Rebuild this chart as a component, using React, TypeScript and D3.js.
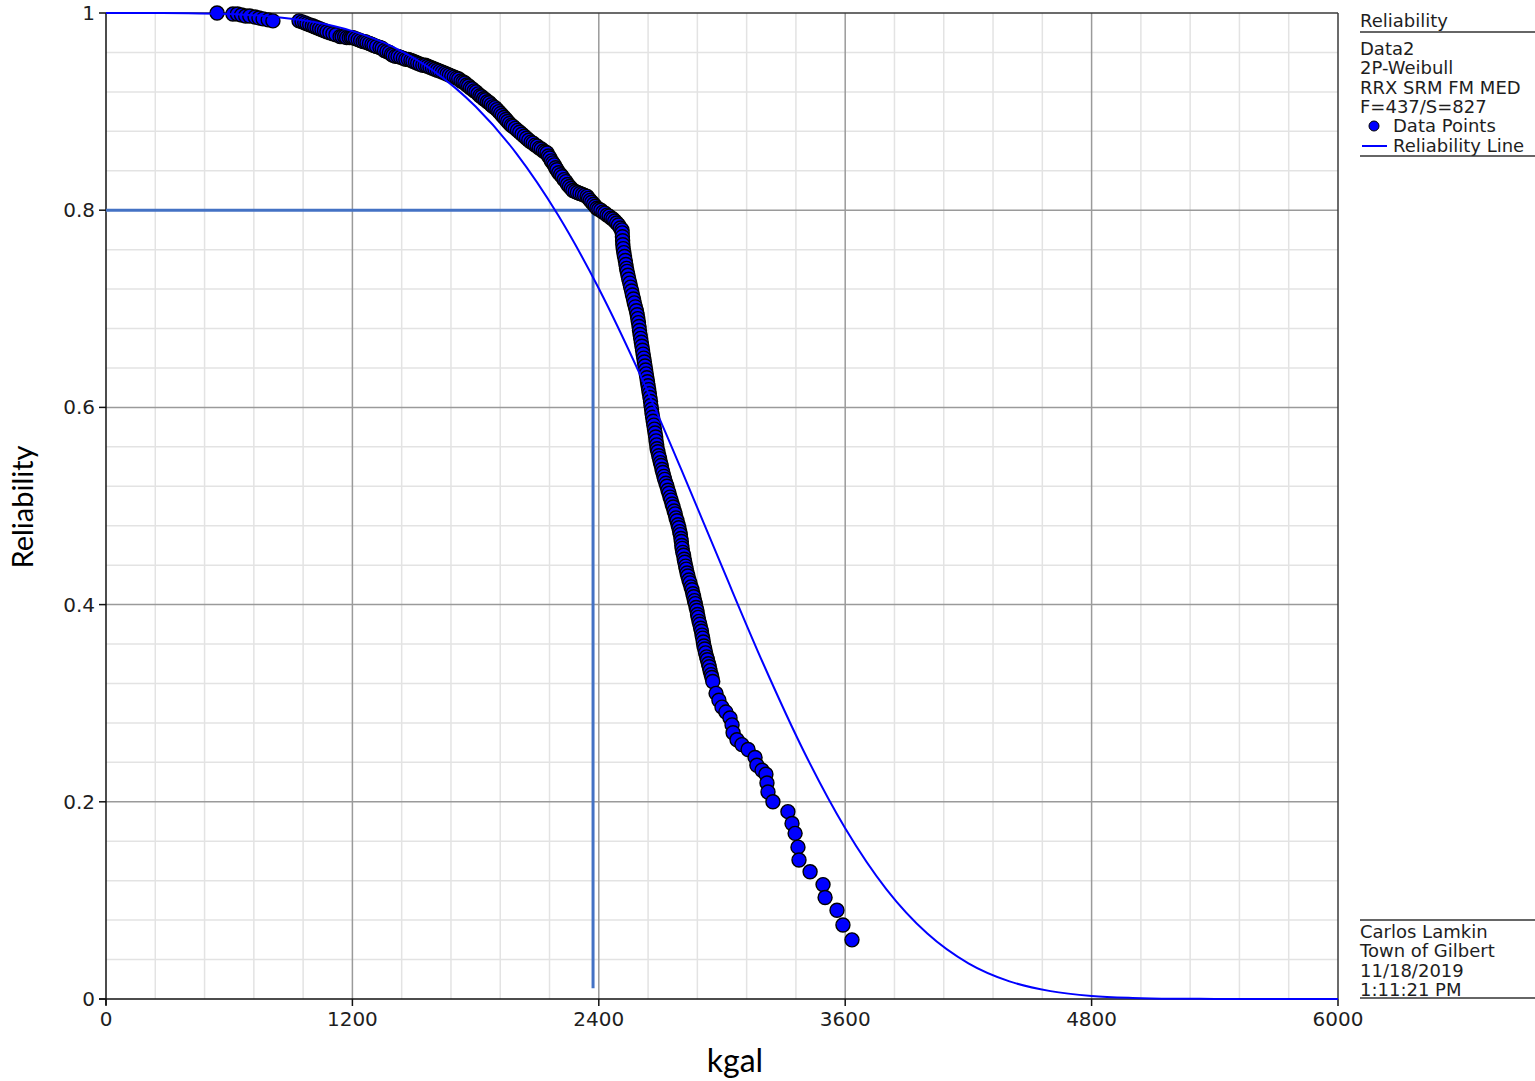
import React from 'react';
import * as d3 from 'd3';

// ---------- data ----------
const xTicks = [0, 1200, 2400, 3600, 4800, 6000];
const yTicks = [0, 0.2, 0.4, 0.6, 0.8, 1];
const yTickLabels = ['0', '0.2', '0.4', '0.6', '0.8', '1'];
const xTitle = 'kgal';
const yTitle = 'Reliability';
const legendTitle = 'Reliability';
const legendInfo = ['Data2', '2P-Weibull', 'RRX SRM FM MED', 'F=437/S=827'];
const legendItems = ['Data Points', 'Reliability Line'];
const footerLines = ['Carlos Lamkin', 'Town of Gilbert', '11/18/2019', '1:11:21 PM'];

// fitted 2P-Weibull reliability line (kgal, R)
const lineT = [0, 200, 400, 600, 800, 1000, 1200, 1400, 1600, 1800, 2000, 2200, 2400, 2600, 2800, 3000, 3200, 3400, 3600, 3800, 4000, 4200, 4400, 4600, 4800, 5000, 5200, 5400, 5600, 6000];
const lineR = [1, 1, 0.9998, 0.9989, 0.9965, 0.9913, 0.9816, 0.9654, 0.9406, 0.9051, 0.8572, 0.7956, 0.7206, 0.6337, 0.5379, 0.4384, 0.3405, 0.2505, 0.1732, 0.1115, 0.0664, 0.0362, 0.0179, 0.008, 0.0031, 0.0011, 0.0003, 0.0001, 0, 0];

// reference (B20 life) lines
const refLife = 2372;
const refReliability = 0.8;
const refLineBottom = 0.011;

// failure data points (kgal, R)
const dataPoints: [number, number][] = [
  [541, 1.0], [618, 0.999], [640, 0.999], [660, 0.998], [680, 0.997], [700, 0.997], [726, 0.996], [745, 0.995], [765, 0.994], [790, 0.993], [813, 0.992],
  [940, 0.992], [955, 0.991], [968, 0.99], [979, 0.989], [992, 0.988], [1005, 0.987], [1016, 0.986], [1028, 0.985], [1040, 0.984], [1052, 0.983], [1064, 0.982], [1076, 0.981], [1090, 0.98], [1105, 0.979], [1120, 0.978], [1140, 0.976],
  [1150, 0.976], [1162, 0.976], [1172, 0.975], [1185, 0.975], [1195, 0.975], [1203, 0.975], [1215, 0.974], [1228, 0.973], [1240, 0.972], [1252, 0.971], [1262, 0.971], [1271, 0.97], [1283, 0.969], [1295, 0.968], [1305, 0.967], [1318, 0.966], [1334, 0.965], [1345, 0.964], [1356, 0.962], [1368, 0.961], [1380, 0.96], [1390, 0.958], [1398, 0.957], [1410, 0.956], [1422, 0.956], [1435, 0.955], [1448, 0.954], [1460, 0.953], [1472, 0.953], [1485, 0.952], [1495, 0.951], [1507, 0.95], [1518, 0.949], [1530, 0.948], [1543, 0.947], [1555, 0.947], [1566, 0.946], [1578, 0.945], [1590, 0.944], [1602, 0.943], [1614, 0.942], [1626, 0.941], [1638, 0.94], [1650, 0.939], [1661, 0.938], [1672, 0.937], [1684, 0.936], [1696, 0.935], [1708, 0.934], [1718, 0.933], [1729, 0.931], [1739, 0.93],
  [1748, 0.929], [1757, 0.927], [1766, 0.926], [1775, 0.924], [1784, 0.923], [1793, 0.921], [1802, 0.92], [1812, 0.918], [1821, 0.916], [1830, 0.915], [1839, 0.913], [1848, 0.912], [1858, 0.91], [1867, 0.909], [1876, 0.907], [1885, 0.905], [1895, 0.904], [1904, 0.902], [1913, 0.9], [1922, 0.898], [1930, 0.896], [1939, 0.894], [1948, 0.892], [1956, 0.89], [1965, 0.888], [1974, 0.886], [1982, 0.885], [1993, 0.883], [2004, 0.881], [2015, 0.879], [2026, 0.877], [2037, 0.875], [2048, 0.873], [2059, 0.871], [2070, 0.869], [2080, 0.868], [2090, 0.866], [2100, 0.865], [2110, 0.863], [2120, 0.862], [2130, 0.86], [2139, 0.859], [2148, 0.858],
  [2155, 0.855], [2162, 0.853], [2169, 0.85], [2176, 0.848], [2183, 0.846], [2190, 0.843], [2196, 0.841], [2205, 0.838], [2214, 0.836], [2222, 0.834], [2231, 0.831], [2240, 0.829], [2248, 0.826], [2257, 0.824], [2266, 0.822], [2274, 0.82], [2285, 0.819], [2296, 0.818], [2308, 0.817], [2320, 0.816], [2331, 0.815], [2343, 0.814], [2350, 0.812], [2358, 0.81], [2366, 0.808], [2375, 0.806], [2383, 0.804], [2391, 0.802], [2400, 0.801], [2410, 0.8], [2420, 0.798], [2430, 0.797], [2440, 0.795], [2450, 0.794], [2460, 0.792], [2469, 0.791], [2478, 0.789], [2487, 0.787], [2496, 0.785], [2505, 0.782], [2513, 0.78],
  [2514, 0.777], [2515, 0.773], [2516, 0.769], [2517, 0.765], [2519, 0.761], [2522, 0.757], [2525, 0.753], [2529, 0.749], [2532, 0.745], [2535, 0.741], [2538, 0.738],
  [2542, 0.734], [2546, 0.73], [2551, 0.726], [2555, 0.722], [2560, 0.718], [2564, 0.714], [2569, 0.71],
  [2573, 0.706], [2578, 0.702], [2583, 0.698], [2587, 0.694], [2590, 0.69], [2593, 0.686], [2596, 0.682], [2598, 0.678], [2601, 0.674], [2604, 0.67], [2607, 0.666], [2610, 0.662],
  [2613, 0.658], [2616, 0.654], [2619, 0.65], [2622, 0.646], [2625, 0.642], [2628, 0.638], [2631, 0.634], [2634, 0.63], [2637, 0.626],
  [2640, 0.622], [2643, 0.618], [2646, 0.614], [2649, 0.61], [2652, 0.606], [2654, 0.602], [2657, 0.598], [2659, 0.594],
  [2662, 0.59], [2665, 0.586], [2668, 0.582], [2671, 0.578], [2674, 0.574], [2677, 0.57], [2679, 0.566], [2682, 0.562], [2684, 0.558],
  [2688, 0.555], [2692, 0.551], [2696, 0.548], [2700, 0.544], [2704, 0.541], [2708, 0.537], [2712, 0.534], [2717, 0.53], [2721, 0.527],
  [2727, 0.523], [2732, 0.52], [2737, 0.516], [2742, 0.513], [2747, 0.509], [2752, 0.506], [2757, 0.502], [2762, 0.499], [2767, 0.495], [2772, 0.492],
  [2776, 0.488], [2781, 0.485], [2786, 0.481], [2790, 0.478], [2794, 0.474], [2797, 0.471], [2800, 0.467], [2802, 0.464], [2804, 0.46], [2806, 0.457],
  [2809, 0.453], [2813, 0.45], [2816, 0.446], [2819, 0.443], [2823, 0.439], [2826, 0.436], [2830, 0.432], [2834, 0.429],
  [2839, 0.425], [2844, 0.422], [2849, 0.418], [2854, 0.415], [2858, 0.411], [2862, 0.408], [2866, 0.404], [2870, 0.401], [2874, 0.397], [2878, 0.394], [2881, 0.39], [2884, 0.387],
  [2888, 0.383], [2892, 0.38], [2896, 0.376], [2900, 0.373], [2903, 0.369], [2906, 0.366], [2909, 0.362], [2912, 0.358], [2916, 0.355],
  [2920, 0.351], [2925, 0.347], [2929, 0.344], [2934, 0.34], [2938, 0.337], [2942, 0.333], [2947, 0.329], [2951, 0.326], [2955, 0.322],
  [2971, 0.31], [2985, 0.303], [3000, 0.296], [3019, 0.291], [3039, 0.285], [3049, 0.278], [3054, 0.27], [3073, 0.263], [3097, 0.258], [3127, 0.253], [3161, 0.245], [3170, 0.237], [3195, 0.232], [3214, 0.228], [3219, 0.219], [3224, 0.21], [3248, 0.2],
  [3321, 0.19], [3341, 0.178], [3356, 0.168], [3370, 0.154], [3375, 0.141], [3429, 0.129], [3492, 0.116], [3502, 0.103], [3560, 0.09], [3589, 0.075], [3633, 0.06],
];

// ---------- layout ----------
const W = 1535;
const H = 1081;
const left = 106;
const right = 1338;
const top = 13;
const bottom = 999;
const FONT = '"DejaVu Sans", Verdana, sans-serif';
const TITLE_FONT = 'Lato, "Open Sans", sans-serif';
const TEXT = '#1e1e1e';

export default function App() {
  const x = d3.scaleLinear().domain([0, 6000]).range([left, right]);
  const y = d3.scaleLinear().domain([0, 1]).range([bottom, top]);

  const minorX = d3.range(0, 6000 + 1, 240).filter((v) => v % 1200 !== 0);
  const minorY = d3.range(0, 1.0001, 0.04).map((v) => +v.toFixed(2)).filter((v) => Math.round(v * 100) % 20 !== 0);

  const linePath = d3
    .line<number>()
    .x((_, i) => x(lineT[i]))
    .y((d) => y(d))
    .curve(d3.curveMonotoneX)(lineR) as string;

  const legX = 1360;
  const lineH = 19.3;

  return (
    <svg
      width={W}
      height={H}
      style={{ position: 'absolute', left: 0, top: 0, background: '#fff' }}
      xmlns="http://www.w3.org/2000/svg"
    >
      <rect x={0} y={0} width={W} height={H} fill="#fff" />
      {/* minor grid */}
      <g stroke="#e3e3e3" strokeWidth={1.5}>
        {minorX.map((v) => (
          <line key={'mx' + v} x1={x(v)} x2={x(v)} y1={top} y2={bottom} />
        ))}
        {minorY.map((v) => (
          <line key={'my' + v} x1={left} x2={right} y1={y(v)} y2={y(v)} />
        ))}
      </g>
      {/* major grid */}
      <g stroke="#9a9a9a" strokeWidth={1.5}>
        {xTicks.slice(1, -1).map((v) => (
          <line key={'Mx' + v} x1={x(v)} x2={x(v)} y1={top} y2={bottom} />
        ))}
        {yTicks.slice(1, -1).map((v) => (
          <line key={'My' + v} x1={left} x2={right} y1={y(v)} y2={y(v)} />
        ))}
      </g>
      {/* frame */}
      <line x1={left} x2={right} y1={top} y2={top} stroke="#3a3a3a" strokeWidth={1.5} />
      <line x1={right} x2={right} y1={top} y2={bottom} stroke="#3a3a3a" strokeWidth={1.5} />
      <line x1={left} x2={left} y1={top} y2={bottom + 6} stroke="#111" strokeWidth={1.5} />
      <line x1={left - 7} x2={right} y1={bottom} y2={bottom} stroke="#111" strokeWidth={1.5} />
      {/* ticks */}
      {yTicks.map((v) => (
        <line key={'ty' + v} x1={left - 7} x2={left} y1={y(v)} y2={y(v)} stroke="#111" strokeWidth={1.5} />
      ))}
      {xTicks.map((v) => (
        <line key={'tx' + v} x1={x(v)} x2={x(v)} y1={bottom} y2={bottom + 7} stroke="#111" strokeWidth={1.5} />
      ))}
      {/* tick labels */}
      <g fontFamily={FONT} fontSize={20} fill={TEXT}>
        {yTicks.map((v, i) => (
          <text key={'ly' + v} x={left - 11} y={y(v) + 7} textAnchor="end">
            {yTickLabels[i]}
          </text>
        ))}
        {xTicks.map((v) => (
          <text key={'lx' + v} x={x(v)} y={bottom + 27} textAnchor="middle">
            {String(v)}
          </text>
        ))}
      </g>
      {/* axis titles */}
      <text x={735} y={1072} textAnchor="middle" fontFamily={TITLE_FONT} fontSize={32} fill="#000">
        {xTitle}
      </text>
      <text
        transform={`translate(33,${507}) rotate(-90)`}
        textAnchor="middle"
        fontFamily={TITLE_FONT}
        fontSize={29}
        fill="#000"
      >
        {yTitle}
      </text>
      {/* reference lines */}
      <g stroke="#4472c4" strokeWidth={3} fill="none">
        <line x1={x(0)} x2={x(refLife) + 1.5} y1={y(refReliability)} y2={y(refReliability)} />
        <line x1={x(refLife)} x2={x(refLife)} y1={y(refReliability)} y2={y(refLineBottom)} />
      </g>
      {/* data points */}
      <g fill="#0000ff" stroke="#000" strokeWidth={1.4}>
        {dataPoints.map(([t, r], i) => (
          <circle key={'p' + i} cx={x(t)} cy={y(r)} r={7} />
        ))}
      </g>
      {/* reliability line */}
      <path d={linePath} fill="none" stroke="#0000ff" strokeWidth={2} />

      {/* legend */}
      <g fontFamily={FONT} fontSize={18} fill={TEXT}>
        <text x={legX} y={27}>{legendTitle}</text>
        <line x1={legX} x2={W} y1={32} y2={32} stroke="#333" strokeWidth={1.5} />
        {legendInfo.map((s, i) => (
          <text key={'li' + i} x={legX} y={55 + i * lineH}>
            {s}
          </text>
        ))}
        <circle cx={1374} cy={126} r={5} fill="#0000ff" stroke="#000" strokeWidth={1} />
        <text x={1393} y={132}>{legendItems[0]}</text>
        <line x1={1362} x2={1387} y1={146} y2={146} stroke="#0000ff" strokeWidth={2} />
        <text x={1393} y={152}>{legendItems[1]}</text>
        <line x1={legX} x2={W} y1={156} y2={156} stroke="#333" strokeWidth={1.5} />

        <line x1={legX} x2={W} y1={920} y2={920} stroke="#333" strokeWidth={1.5} />
        {footerLines.map((s, i) => (
          <text key={'fl' + i} x={legX} y={938 + i * lineH}>
            {s}
          </text>
        ))}
        <line x1={legX} x2={W} y1={998} y2={998} stroke="#333" strokeWidth={1.5} />
      </g>
    </svg>
  );
}
